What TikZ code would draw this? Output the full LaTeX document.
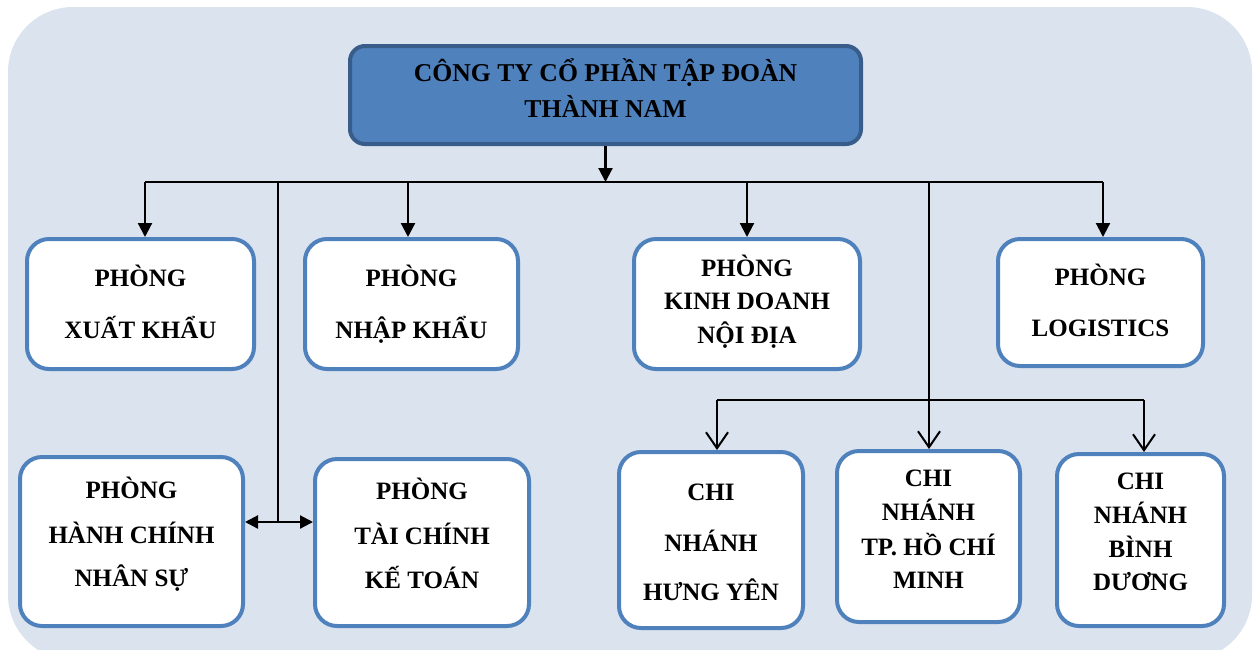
\documentclass[tikz,border=0pt]{standalone}
\usepackage{fontspec}
\setmainfont{Liberation Serif}
\usetikzlibrary{arrows.meta}
\definecolor{bgblue}{HTML}{DBE3EF}
\definecolor{accent}{HTML}{4F81BD}
\definecolor{accentdark}{HTML}{385D8A}
\tikzset{
  deptbox/.style={draw=accent, line width=4pt, fill=white, rounded corners=22pt, inner sep=0pt},
  topbox/.style={draw=accentdark, line width=4pt, fill=accent, rounded corners=15pt, inner sep=0pt},
  txt/.style={anchor=base, inner sep=0pt, font=\bfseries\fontsize{25}{30}\selectfont},
  toptxt/.style={anchor=base, inner sep=0pt, font=\bfseries\fontsize{25.7}{30}\selectfont},
  conn/.style={line width=2.2pt, black},
  farr/.style={conn, -{Triangle[length=14pt,width=14pt]}},
  oarr/.style={conn, -{Straight Barb[length=16pt,width=22pt,line width=2pt]}},
  darr/.style={conn, {Triangle[length=13pt,width=13pt]}-{Triangle[length=13pt,width=13pt]}}
}
\begin{document}
\begin{tikzpicture}[x=1pt,y=-1pt]
\useasboundingbox (0,0) rectangle (1255,649);
\begin{scope}
\clip (0,0) rectangle (1255,649);
\fill[bgblue, rounded corners=65pt] (8,7) rectangle (1252,660);
\end{scope}

% boxes
\node[topbox, minimum width=511pt, minimum height=98pt] (top) at (605.5,95) {};
\node[deptbox, minimum width=227pt, minimum height=130pt] (xk) at (140.5,304) {};
\node[deptbox, minimum width=213pt, minimum height=130pt] (nk) at (411.5,304) {};
\node[deptbox, minimum width=226pt, minimum height=130pt] (kd) at (747,304) {};
\node[deptbox, minimum width=205pt, minimum height=127pt] (lg) at (1100.5,302.5) {};
\node[deptbox, minimum width=223pt, minimum height=169pt] (hc) at (131.5,541.5) {};
\node[deptbox, minimum width=214pt, minimum height=167pt] (tc) at (422,542.5) {};
\node[deptbox, minimum width=184pt, minimum height=176pt] (hy) at (711,540) {};
\node[deptbox, minimum width=183pt, minimum height=171pt] (hcm) at (928.5,536.5) {};
\node[deptbox, minimum width=167pt, minimum height=172pt] (bd) at (1140.5,540) {};

% texts (baseline = cap centre + 8.3)
\node[toptxt] (top1) at (605.5,81.5) {CÔNG TY CỔ PHẦN TẬP ĐOÀN};
\node[toptxt] (top2) at (605.5,117) {THÀNH NAM};
\node[txt] (xk1) at (140.5,286.3) {PHÒNG};
\node[txt] (xk2) at (140.5,338.3) {XUẤT KHẨU};
\node[txt] (nk1) at (411.5,286.3) {PHÒNG};
\node[txt] (nk2) at (411.5,338.3) {NHẬP KHẨU};
\node[txt] (kd1) at (747,276.3) {PHÒNG};
\node[txt] (kd2) at (747,309.3) {KINH DOANH};
\node[txt] (kd3) at (747,343.3) {NỘI ĐỊA};
\node[txt] (lg1) at (1100.5,285.3) {PHÒNG};
\node[txt] (lg2) at (1100.5,336.3) {LOGISTICS};
\node[txt] (hc1) at (131.5,498.3) {PHÒNG};
\node[txt] (hc2) at (131.5,543.3) {HÀNH CHÍNH};
\node[txt] (hc3) at (131.5,586.3) {NHÂN SỰ};
\node[txt] (tc1) at (422,499.3) {PHÒNG};
\node[txt] (tc2) at (422,544.3) {TÀI CHÍNH};
\node[txt] (tc3) at (422,588.3) {KẾ TOÁN};
\node[txt] (hy1) at (711,500.3) {CHI};
\node[txt] (hy2) at (711,551.3) {NHÁNH};
\node[txt] (hy3) at (711,600.3) {HƯNG YÊN};
\node[txt] (hcm1) at (928.5,486.3) {CHI};
\node[txt] (hcm2) at (928.5,520.3) {NHÁNH};
\node[txt] (hcm3) at (928.5,555.3) {TP. HỒ CHÍ};
\node[txt] (hcm4) at (928.5,588.3) {MINH};
\node[txt] (bd1) at (1140.5,489.3) {CHI};
\node[txt] (bd2) at (1140.5,523.3) {NHÁNH};
\node[txt] (bd3) at (1140.5,557.3) {BÌNH};
\node[txt] (bd4) at (1140.5,590.3) {DƯƠNG};

% bus coordinates
\coordinate (bus) at (605.5,182);
\coordinate (bxk) at (145,182);
\coordinate (badm) at (278,182);
\coordinate (bnk) at (408,182);
\coordinate (bkd) at (747,182);
\coordinate (bbr) at (929,182);
\coordinate (blg) at (1103,182);
\coordinate (jadm) at (278,522);
\coordinate (sbus) at (929,400);
\coordinate (shy) at (717,400);
\coordinate (sbd) at (1144,400);

% connectors
\draw[farr] (top.south) -- (bus);
\draw[conn] (bxk) -- (blg);
\draw[farr] (bxk) -- (bxk |- xk.north);
\draw[farr] (bnk) -- (bnk |- nk.north);
\draw[farr] (bkd) -- (bkd |- kd.north);
\draw[farr] (blg) -- (blg |- lg.north);
\draw[conn] (badm) -- (jadm);
\draw[darr] (hc.east |- jadm) -- (tc.west |- jadm);
\draw[conn] (bbr) -- (sbus);
\draw[conn] (shy) -- (sbd);
\draw[oarr] (shy) -- (shy |- hy.north);
\draw[oarr] (sbus) -- (sbus |- hcm.north);
\draw[oarr] (sbd) -- (sbd |- bd.north);
\end{tikzpicture}
\end{document}
